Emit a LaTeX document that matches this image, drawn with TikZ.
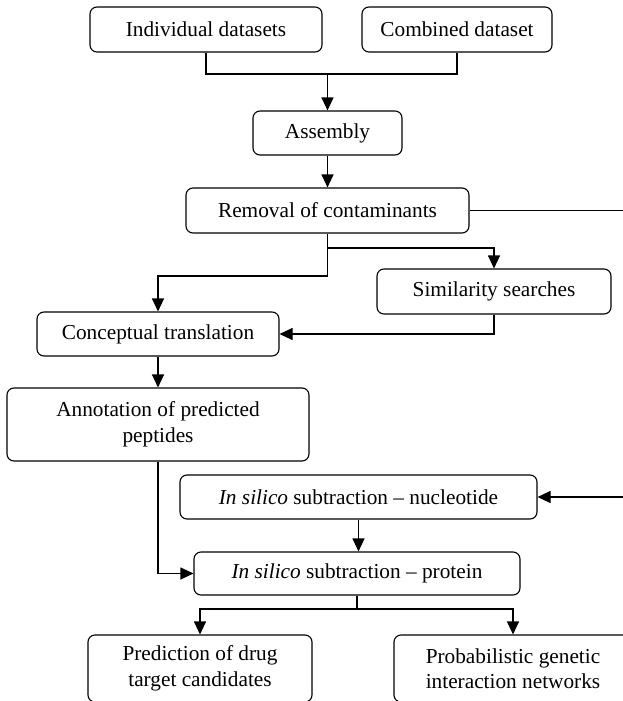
\documentclass[tikz,border=0pt]{standalone}
\usepackage{fontspec}
\setmainfont{Liberation Serif}
\usetikzlibrary{arrows.meta}
\begin{document}
\begin{tikzpicture}[x=1pt,y=-1pt,
  box/.style={draw, line width=1.1pt, rounded corners=7pt, align=center,
    inner sep=0pt, font=\fontsize{21.3}{25.5}\selectfont},
  link/.style={line width=1.1pt},
  flow/.style={line width=1.1pt, -{Triangle[length=13pt,width=12pt]}}]
\useasboundingbox (0,0) rectangle (623,701);

% process boxes
\node[box, minimum width=232pt, minimum height=45pt] (ind)  at (206,29.5)  {Individual datasets};
\node[box, minimum width=190pt, minimum height=45pt] (comb) at (457,29.5)  {Combined dataset};
\node[box, minimum width=149pt, minimum height=44pt] (asm)  at (327.5,133) {Assembly};
\node[box, minimum width=283pt, minimum height=45pt] (rem)  at (327.5,210.5) {Removal of contaminants};
\node[box, minimum width=234pt, minimum height=45pt] (sim)  at (494,291.5) {Similarity searches};
\node[box, minimum width=242pt, minimum height=44pt] (con)  at (158,334)   {Conceptual translation};
\node[box, minimum width=302pt, minimum height=73pt] (ann)  at (158,424.5) {Annotation of predicted\\peptides};
\node[box, minimum width=357pt, minimum height=44pt] (nuc)  at (358.5,497) {\textit{In silico} subtraction -- nucleotide};
\node[box, minimum width=326pt, minimum height=43pt] (pro)  at (357,573.5) {\textit{In silico} subtraction -- protein};
\node[box, minimum width=224pt, minimum height=67pt] (pre)  at (200,668.5) {Prediction of drug\\target candidates};
\node[box, minimum width=238pt, minimum height=67pt] (prob) at (513,668.5) {Probabilistic genetic\\interaction networks};

% junction points
\coordinate (j1) at (327.5,74);
\coordinate (j2) at (327.5,248);
\coordinate (j3) at (327.5,276);
\coordinate (j4) at (357,609);
\coordinate (er1) at (623,210.5);
\coordinate (er2) at (623,497);

% connectors
\draw[link] (ind.south) |- (j1) -| (comb.south);
\draw[flow] (j1) -- (asm.north);
\draw[flow] (asm.south) -- (rem.north);
\draw[link] (rem.east) -- (er1);
\draw[link] (rem.south) -- (j3);
\draw[flow] (j3) -| (con.north);
\draw[flow] (j2) -| (sim.north);
\draw[flow] (sim.south) |- (con.east);
\draw[flow] (con.south) -- (ann.north);
\draw[flow] (ann.south) |- (pro.west);
\draw[flow] (er2) -- (nuc.east);
\draw[flow] (nuc.south) -- (nuc.south |- pro.north);
\draw[link] (pro.south) -- (j4);
\draw[flow] (j4) -| (pre.north);
\draw[flow] (j4) -| (prob.north);
\end{tikzpicture}
\end{document}
